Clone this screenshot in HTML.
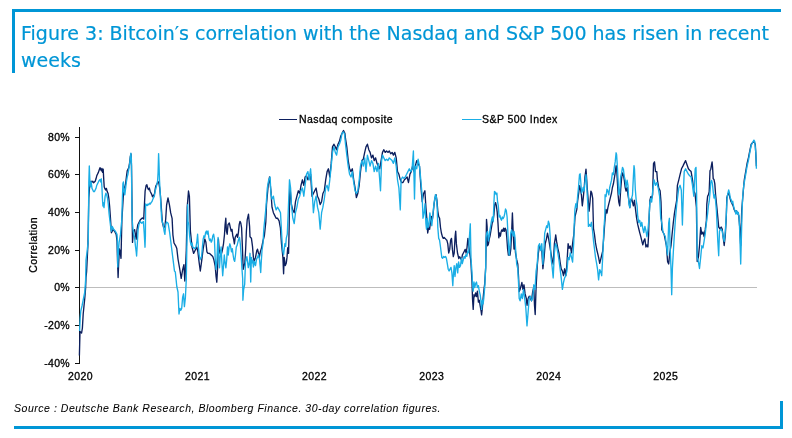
<!DOCTYPE html>
<html><head><meta charset="utf-8">
<style>
html,body{margin:0;padding:0;background:#fff;}
body{width:792px;height:438px;position:relative;overflow:hidden;font-family:"Liberation Sans",Arial,sans-serif;}
.bt{position:absolute;left:12px;top:9px;width:769px;height:3px;background:#0096d6;}
.bl{position:absolute;left:12px;top:9px;width:3px;height:64px;background:#0096d6;}
.bb{position:absolute;left:14px;top:426px;width:769px;height:3px;background:#0096d6;}
.br{position:absolute;left:780px;top:401px;width:3px;height:28px;background:#0096d6;}
.title{position:absolute;left:21px;top:20px;width:770px;font-family:"DejaVu Sans","Liberation Sans",sans-serif;font-size:19px;line-height:27px;color:#0096d6;white-space:nowrap;-webkit-text-stroke:0.2px #0096d6;}
.src{position:absolute;left:14px;top:402px;font-size:10.5px;font-style:italic;color:#000;white-space:nowrap;letter-spacing:0.53px;-webkit-text-stroke:0.05px #000;}
svg{position:absolute;left:0;top:0;}
</style></head><body>
<div class="bt"></div><div class="bl"></div><div class="bb"></div><div class="br"></div>
<div class="title">Figure 3: Bitcoin&#8242;s correlation with the Nasdaq and S&amp;P 500 has risen in recent<br>weeks</div>
<svg width="792" height="438" viewBox="0 0 792 438">
<g font-family="Liberation Sans, Arial, sans-serif" font-size="10.5" fill="#000" stroke="#000" stroke-width="0.3">
<line x1="279" y1="119.5" x2="297" y2="119.5" stroke="#0c1f5e" stroke-width="1"/>
<text x="299" y="122.5" letter-spacing="0.45">Nasdaq composite</text>
<line x1="462" y1="119.5" x2="481.5" y2="119.5" stroke="#1aaee6" stroke-width="1"/>
<text x="482" y="122.5" letter-spacing="0.45">S&amp;P 500 Index</text>
<g text-anchor="end" letter-spacing="0.3">
<text x="70" y="141.1">80%</text>
<text x="70" y="178.1">60%</text>
<text x="70" y="216.1">40%</text>
<text x="70" y="254.1">20%</text>
<text x="70" y="291.1">0%</text>
<text x="70" y="329.1">-20%</text>
<text x="70" y="367.1">-40%</text>
</g>
<g text-anchor="middle" letter-spacing="0.4">
<text x="80.5" y="379.6">2020</text>
<text x="197.5" y="379.6">2021</text>
<text x="314.5" y="379.6">2022</text>
<text x="431.7" y="379.6">2023</text>
<text x="548.8" y="379.6">2024</text>
<text x="665.7" y="379.6">2025</text>
</g>
<text transform="translate(36.6,244.8) rotate(-90)" text-anchor="middle" letter-spacing="0.4">Correlation</text>
</g>
<line x1="79" y1="287.5" x2="757" y2="287.5" stroke="#bdbdbd" stroke-width="1"/>
<g stroke="#111" stroke-width="1" fill="none">
<line x1="79.5" y1="127" x2="79.5" y2="364"/>
<path d="M75 137.5H79.5M75 174.5H79.5M75 212.5H79.5M75 250.5H79.5M75 287.5H79.5M75 325.5H79.5M75 363.5H80"/>
</g>
<polyline fill="none" stroke="#0c1f5e" stroke-width="1.35" stroke-linejoin="round" points="79.4,355.5 80.0,331.5 81.6,333.0 82.4,328.0 83.2,314.0 84.8,298.0 85.6,288.0 86.0,277.3 86.6,271.6 88.0,243.0 88.8,198.0 89.6,186.8 90.4,182.0 91.2,181.2 92.0,182.0 92.8,181.2 93.6,182.8 94.4,182.0 95.2,181.2 96.0,178.8 96.8,175.6 97.6,174.0 98.4,172.4 99.2,170.0 100.0,167.6 100.6,169.2 101.3,170.8 101.9,168.4 102.6,172.4 103.2,169.2 103.7,178.8 104.2,186.8 104.8,188.4 105.6,190.0 106.4,188.4 107.2,191.6 108.0,193.2 108.8,198.0 109.6,206.0 110.4,217.2 111.4,232.8 113.0,229.6 114.6,231.2 116.2,234.4 117.0,240.8 117.5,260.0 118.1,277.5 118.6,264.7 119.4,248.8 120.2,252.0 121.0,258.4 121.5,236.0 121.9,220.0 123.2,198.0 124.0,188.4 124.8,186.8 125.6,183.6 126.4,177.2 127.2,170.8 128.0,169.2 128.8,167.6 129.6,162.8 130.4,156.4 131.0,154.0 131.5,166.0 132.5,242.4 133.4,231.2 134.6,229.6 135.4,234.4 136.2,239.2 137.0,229.6 137.8,224.8 138.6,223.2 140.2,220.0 140.9,219.3 142.3,217.9 143.7,219.0 145.1,191.2 146.1,185.6 146.9,184.8 147.7,188.0 148.5,189.6 149.3,188.0 150.1,191.2 150.9,192.8 151.7,194.4 152.5,196.8 153.3,195.2 154.1,196.0 154.9,191.2 155.7,186.4 156.5,184.8 157.3,183.2 158.1,181.6 158.9,183.2 159.7,188.0 160.5,196.0 161.3,207.2 162.3,222.0 163.7,227.9 164.9,226.4 165.7,219.0 166.6,205.0 168.0,197.9 169.4,204.7 170.7,212.9 172.1,218.4 172.9,234.8 174.0,243.0 175.7,245.8 176.8,248.5 178.0,259.0 179.9,270.0 181.2,278.3 182.6,270.0 183.9,264.6 184.8,281.0 185.5,268.3 186.3,250.0 187.2,207.4 188.5,191.0 189.4,196.4 190.4,231.0 192.0,247.0 193.6,253.4 195.2,250.2 196.8,247.0 197.9,251.8 199.2,263.0 200.3,271.0 201.6,261.4 203.2,248.6 204.0,243.8 204.8,239.0 205.9,242.2 206.9,251.8 208.0,253.4 209.6,253.4 211.2,255.0 212.8,256.6 213.9,259.8 215.2,266.2 216.0,275.8 216.8,282.2 217.6,267.8 218.4,239.0 219.2,250.2 220.0,253.4 220.8,250.2 221.6,253.4 222.4,250.2 223.5,243.8 224.5,234.2 225.1,224.6 225.8,218.2 226.4,231.0 227.2,234.2 228.0,224.6 229.3,223.0 230.4,227.8 231.2,231.0 232.0,229.4 232.8,235.8 233.6,239.0 234.4,243.8 235.2,237.4 236.0,235.8 236.8,234.2 237.6,237.4 238.4,232.6 239.2,224.6 240.0,221.4 240.8,223.0 241.6,227.8 242.4,247.0 243.2,269.4 244.0,266.2 244.8,263.0 245.6,250.2 246.4,231.0 247.2,219.8 248.5,214.2 249.6,226.6 250.0,236.8 251.4,238.2 252.5,246.4 253.4,257.4 254.1,261.5 255.5,257.4 256.8,250.5 257.5,249.2 258.5,253.3 259.3,257.4 260.3,251.9 261.6,247.8 263.0,241.0 264.4,235.5 265.8,222.0 266.5,204.5 268.2,185.3 269.5,177.0 270.9,190.8 272.0,207.2 273.4,212.7 274.7,215.4 276.1,218.2 277.5,218.2 279.1,220.9 280.4,228.0 281.5,243.7 282.9,257.4 283.6,273.8 284.2,257.4 285.3,265.6 286.3,262.9 287.0,257.4 287.7,247.8 288.6,253.3 289.2,225.0 289.6,196.2 290.1,188.0 291.4,204.5 292.8,210.0 294.2,212.7 295.5,201.7 296.9,196.2 298.3,190.8 299.7,193.5 301.0,185.3 302.4,179.8 303.8,185.3 305.1,177.0 306.5,175.7 307.9,179.8 309.2,177.0 310.6,174.3 312.0,196.2 313.4,193.5 314.7,190.8 316.1,188.0 317.5,196.2 318.8,199.0 320.2,204.5 321.6,201.7 322.9,193.5 324.3,190.8 325.7,179.8 327.1,171.6 328.4,168.8 329.8,177.0 331.2,163.4 332.5,146.9 333.9,144.2 335.3,146.9 336.6,149.7 338.0,144.2 339.4,141.4 340.8,136.0 342.1,133.2 343.5,130.5 344.9,133.2 345.5,138.7 346.8,146.9 348.2,160.6 349.6,168.8 351.0,171.6 352.3,168.8 353.7,179.8 355.1,188.0 356.4,197.6 357.8,193.5 359.2,185.3 360.5,171.6 361.9,160.6 363.3,159.2 364.7,152.4 366.0,146.9 367.4,144.2 368.8,149.7 370.1,152.4 371.5,157.9 372.9,155.1 374.2,160.6 375.6,157.9 377.0,163.4 378.4,166.1 379.7,168.8 381.1,160.6 382.5,152.4 383.8,149.7 385.2,152.4 386.6,151.0 387.9,152.4 389.3,151.0 390.7,153.8 392.1,152.4 393.4,155.1 394.8,152.4 396.2,157.9 397.5,171.6 398.9,174.3 400.3,179.8 401.6,182.5 403.0,182.5 404.4,179.8 405.8,178.4 407.1,177.0 408.5,182.5 409.9,174.3 411.2,171.6 412.6,166.1 414.0,171.6 415.3,166.1 416.7,160.6 418.1,163.4 419.5,166.1 420.8,185.3 422.2,201.7 423.6,193.5 424.9,190.8 425.9,207.4 426.8,218.4 427.7,233.0 428.7,227.5 429.6,229.3 430.5,222.0 431.4,216.5 432.3,220.2 433.2,212.9 434.1,203.7 435.0,198.3 436.0,194.6 436.9,200.1 437.8,211.0 438.7,216.5 439.6,218.4 440.5,227.5 441.4,233.0 442.4,236.6 443.3,238.4 444.2,237.5 445.1,238.4 446.0,239.4 446.9,240.3 447.8,243.9 448.7,253.0 449.7,249.4 450.6,240.3 451.5,238.4 452.4,249.4 453.3,256.7 454.2,253.0 455.1,236.6 455.7,231.1 456.4,243.9 457.5,253.0 458.8,258.5 459.7,256.7 461.5,260.0 462.4,254.9 463.4,253.0 464.3,251.2 465.2,249.4 466.1,253.0 467.0,247.6 467.9,238.4 468.8,245.8 469.7,253.0 470.7,260.0 471.0,263.7 472.0,282.0 472.5,298.4 473.2,309.4 474.0,294.8 474.7,296.6 475.6,293.0 476.5,296.6 477.4,291.1 478.4,302.1 479.3,300.3 480.2,305.8 481.1,311.2 481.6,314.9 482.4,307.6 483.1,298.4 483.8,291.1 484.7,283.8 485.7,267.4 486.5,219.4 487.1,226.6 487.6,245.8 488.4,244.2 489.2,239.4 490.0,236.2 490.8,231.4 491.6,226.6 492.4,221.8 493.2,220.2 494.0,213.8 494.8,204.2 495.6,202.6 496.4,205.8 497.2,212.2 498.0,223.4 498.8,237.8 499.6,233.0 500.4,236.2 501.2,231.4 502.0,229.8 502.8,231.4 503.6,228.2 504.4,231.4 505.2,228.2 506.0,229.8 506.8,237.8 507.6,249.0 508.4,255.1 510.0,255.1 510.8,249.0 511.6,233.0 512.4,213.0 513.2,233.0 514.0,249.0 514.4,236.8 515.5,252.8 516.7,259.7 517.8,264.2 518.5,275.7 519.2,291.6 520.1,289.4 521.3,284.8 521.9,282.5 522.9,289.4 524.0,284.8 525.1,293.9 526.3,298.5 527.0,305.3 528.1,298.5 529.2,296.2 530.4,298.5 531.5,300.8 532.7,291.6 533.8,287.1 534.5,305.3 535.2,314.5 536.1,287.1 537.2,266.5 538.4,252.8 539.5,246.0 540.7,248.3 541.8,250.5 542.9,268.8 544.1,257.4 545.2,243.7 546.4,239.1 547.5,233.1 548.7,239.1 549.8,246.0 550.9,252.8 552.1,259.7 553.2,264.2 554.4,243.7 555.5,236.8 555.7,234.9 556.6,241.4 557.8,248.3 558.9,252.8 560.1,262.0 561.2,268.8 562.4,271.1 563.5,275.7 564.6,268.8 565.8,275.7 566.9,264.2 568.1,243.7 569.2,248.3 570.3,246.0 571.5,252.8 572.6,243.7 573.8,234.6 574.5,225.0 575.0,216.7 576.8,209.4 577.7,200.3 578.7,193.0 579.6,185.7 580.5,189.3 581.4,194.8 582.3,205.8 583.2,198.4 584.1,189.3 585.0,176.5 586.0,169.2 586.5,176.5 587.2,187.5 588.2,200.3 589.1,211.2 590.0,202.1 590.9,191.1 591.8,193.0 592.7,198.4 593.5,228.5 594.5,234.7 595.5,242.9 596.6,249.0 597.6,253.1 598.6,257.3 599.7,263.4 600.7,259.3 601.7,255.2 602.7,251.1 603.8,236.7 604.8,222.3 605.8,212.0 606.0,209.4 607.0,213.1 607.9,207.6 608.8,203.9 609.7,200.3 610.6,196.6 611.5,193.0 612.4,187.5 613.4,183.8 614.3,178.4 615.2,172.9 616.1,165.6 616.6,167.4 617.4,182.0 618.1,194.8 618.8,202.1 619.7,205.8 620.7,189.3 621.6,178.4 622.5,172.9 623.4,174.7 624.3,180.2 625.2,187.5 626.1,191.1 627.1,187.5 628.0,194.8 628.9,200.3 629.8,207.6 630.7,200.3 631.6,198.4 632.5,202.1 633.4,205.8 634.4,200.3 635.3,207.6 636.6,218.2 637.7,224.4 638.7,228.5 639.7,232.6 640.8,236.7 641.8,240.8 642.8,244.9 643.8,240.8 644.9,238.8 645.9,247.0 646.9,244.9 647.9,247.0 648.6,234.7 649.0,220.3 649.9,200.3 650.8,196.6 651.7,198.4 652.6,194.8 653.5,163.7 654.5,161.9 655.5,171.6 656.8,171.6 657.4,179.8 658.8,188.0 660.1,190.8 661.0,201.7 661.8,229.7 664.1,234.2 666.4,245.7 667.6,261.6 668.7,264.0 669.8,252.5 671.0,245.7 672.1,234.2 673.3,222.8 674.4,213.7 675.5,206.8 676.7,200.0 677.4,185.3 678.8,179.8 680.1,174.3 681.5,168.8 682.9,166.1 684.2,163.4 685.6,160.6 687.0,164.7 688.4,168.8 689.7,170.2 691.1,171.6 692.5,179.8 693.8,190.8 695.0,193.5 696.4,207.2 697.2,261.6 698.4,257.1 699.5,245.7 700.7,227.4 701.8,234.2 703.0,232.0 704.1,236.5 705.2,229.7 706.4,220.5 706.8,204.4 707.6,196.4 708.4,194.8 709.2,191.6 710.0,170.8 710.8,169.2 711.6,164.4 712.1,162.0 712.6,167.6 713.2,178.8 714.0,179.6 714.8,183.6 715.6,194.8 716.4,202.8 717.2,210.8 718.7,227.0 720.1,229.0 721.2,227.0 722.2,229.0 723.2,237.3 724.2,245.5 725.3,235.2 726.3,216.7 726.8,198.0 727.6,194.8 728.4,193.2 729.2,194.8 730.0,198.0 730.8,201.2 731.6,202.8 732.4,204.4 733.2,206.0 734.0,209.2 734.8,210.8 735.6,212.4 736.4,210.8 737.2,212.4 738.0,214.0 738.8,215.6 739.7,227.0 740.7,245.5 741.7,210.5 742.7,198.2 743.8,185.0 744.3,179.8 745.7,171.6 747.1,163.4 748.4,157.9 749.8,151.0 751.2,144.2 752.5,142.8 753.9,141.4 755.3,144.2 756.4,166.1"/>
<polyline fill="none" stroke="#1aaee6" stroke-width="1.35" stroke-linejoin="round" points="79.6,331.0 80.2,318.0 80.8,311.0 82.0,306.0 83.2,300.0 84.8,292.0 85.6,280.0 86.0,260.0 87.1,251.6 88.3,240.0 88.8,182.0 89.3,166.0 89.8,178.8 90.4,186.8 91.2,182.0 92.0,188.4 92.8,190.0 93.6,191.6 94.4,191.6 95.2,190.0 96.0,188.4 96.8,185.2 97.6,183.6 98.4,182.0 99.2,180.4 100.0,179.6 100.8,182.0 101.3,178.8 101.9,186.8 102.4,198.0 102.9,206.0 103.5,202.8 104.0,207.6 104.5,202.8 105.1,196.4 105.9,193.2 106.7,194.8 107.5,198.0 108.3,204.4 109.1,214.0 110.6,226.4 111.4,231.2 112.2,226.4 113.8,229.6 115.4,231.2 117.0,234.4 117.4,240.8 117.8,267.0 118.4,252.0 119.1,242.4 119.7,239.2 120.5,234.4 121.0,228.0 121.8,220.0 122.4,198.0 122.9,183.6 123.4,182.0 124.0,191.6 124.8,194.8 125.6,188.4 126.4,182.0 127.2,177.2 128.0,174.0 128.8,169.2 129.6,164.4 130.4,156.4 130.9,153.2 131.4,159.6 131.8,198.0 132.2,220.0 133.0,229.6 133.8,234.4 134.6,237.6 135.4,245.6 136.2,252.0 136.6,256.0 137.3,244.0 138.1,229.6 138.9,224.8 140.2,221.6 141.8,223.2 143.4,221.6 144.2,232.8 145.0,247.2 145.4,236.0 145.6,204.0 146.4,204.8 147.2,205.6 148.0,204.0 148.8,204.8 149.6,203.2 150.4,204.0 151.2,202.4 152.0,201.6 152.8,199.2 153.6,197.6 154.4,196.0 155.2,191.2 156.0,188.0 156.8,184.8 157.6,180.8 158.1,172.0 158.6,153.6 159.0,164.0 159.5,180.0 160.2,192.8 160.8,204.0 161.7,220.0 163.3,224.8 164.1,231.2 164.9,234.4 165.7,224.8 166.6,222.0 168.1,223.2 169.7,232.8 171.3,245.6 172.9,258.4 174.5,271.1 175.3,271.9 176.8,286.5 178.0,292.0 179.0,314.0 179.9,308.4 180.8,310.3 181.7,308.4 182.6,297.5 183.5,293.8 184.4,306.6 185.4,297.5 186.3,279.2 186.8,250.0 187.7,204.7 188.0,221.4 188.8,224.6 189.6,235.8 190.4,242.2 191.2,245.4 192.0,243.0 192.8,247.0 194.4,248.6 196.0,247.0 196.8,242.2 197.6,234.2 198.4,247.0 199.2,255.0 200.0,259.8 200.8,258.2 201.6,256.6 202.4,247.0 203.2,239.0 204.0,235.8 204.8,237.4 205.6,232.6 206.4,231.0 207.2,234.2 208.0,231.0 208.8,237.4 209.6,240.6 210.4,239.0 211.2,242.2 212.0,240.6 212.8,235.8 213.6,234.2 214.4,239.0 215.2,258.2 216.0,269.4 216.8,263.0 217.6,243.8 218.1,237.4 218.7,255.0 219.5,267.8 220.3,255.0 221.1,247.0 221.9,263.0 222.7,275.8 223.5,266.2 224.3,255.0 225.1,263.0 225.9,267.8 226.7,259.8 227.5,247.0 228.3,255.0 229.1,247.0 229.9,243.8 230.7,247.0 231.5,251.8 232.3,248.6 233.1,255.0 233.9,259.8 234.7,261.4 235.5,255.0 236.3,247.0 237.1,245.4 237.9,242.2 238.7,239.0 239.5,237.4 240.3,243.8 241.1,255.0 241.9,267.8 242.7,279.0 242.9,300.2 243.6,290.0 244.7,284.1 245.5,262.2 246.9,256.7 248.3,267.7 249.4,262.2 250.0,253.3 250.7,282.1 251.4,257.4 252.1,262.9 252.7,260.1 253.4,267.0 254.4,261.5 255.5,265.6 256.6,258.8 257.5,257.4 258.5,254.7 259.6,260.1 260.7,272.5 261.2,262.9 262.0,250.5 263.0,243.7 263.8,229.1 266.0,207.2 267.3,188.0 268.7,179.8 270.1,177.0 270.9,193.5 272.0,199.0 273.4,196.2 274.7,204.5 276.1,209.9 277.5,207.2 279.1,209.9 280.5,212.7 281.8,236.8 282.6,250.5 283.6,254.7 284.2,249.2 284.9,243.7 285.6,246.4 286.3,238.2 287.3,234.1 288.4,207.2 289.5,179.8 290.6,188.0 291.4,204.5 292.8,218.2 294.2,223.6 295.5,212.7 296.9,207.2 298.3,199.0 299.7,196.2 301.0,190.8 302.4,188.0 303.8,196.2 305.1,185.3 306.5,174.3 307.9,171.6 309.2,179.8 310.6,168.8 312.0,188.0 313.4,212.7 314.7,201.7 316.1,196.2 317.5,207.2 318.8,212.7 320.2,229.1 321.6,212.7 322.9,207.2 324.3,199.0 325.7,188.0 327.1,185.3 328.4,190.8 329.8,179.8 331.2,166.1 332.5,152.4 333.9,146.9 335.3,152.4 336.6,155.1 338.0,146.9 339.4,144.2 340.8,140.0 342.1,133.0 343.5,132.0 344.5,134.0 345.5,144.2 346.8,155.1 348.2,166.1 349.6,174.3 351.0,177.0 352.3,171.6 353.7,182.5 355.1,190.8 356.4,193.5 357.8,190.8 359.2,179.8 360.5,166.1 361.9,160.6 363.3,166.1 364.7,157.9 366.0,171.6 367.4,155.1 368.8,160.6 370.1,166.1 371.5,160.6 372.9,163.4 374.2,171.6 375.6,166.1 377.0,171.6 378.4,163.4 379.7,179.8 380.5,190.8 381.6,160.6 382.5,155.1 383.8,157.9 385.2,160.6 386.6,159.2 387.9,160.6 389.3,157.9 390.7,159.2 392.1,160.6 393.4,163.4 394.8,157.9 396.2,166.1 397.5,179.8 398.9,188.0 400.3,209.9 401.1,179.8 402.5,177.0 403.8,178.4 405.2,177.0 406.6,174.3 407.9,171.6 409.3,168.8 410.7,171.6 412.1,168.8 413.4,151.0 414.5,199.0 415.3,166.1 416.7,168.8 418.1,159.2 419.5,166.1 420.8,179.8 422.2,196.2 423.0,218.2 424.1,212.7 425.0,203.7 425.9,223.8 426.5,229.3 427.2,218.4 428.1,227.5 429.0,223.8 429.9,212.9 430.8,220.2 431.8,225.7 432.7,216.5 433.6,207.4 434.5,200.1 435.4,194.6 436.3,196.4 437.2,207.4 437.8,227.5 438.7,238.4 439.6,240.3 440.5,247.0 441.8,257.4 442.7,258.3 443.7,256.4 444.6,257.4 445.5,256.4 446.4,258.3 447.3,263.7 448.2,269.2 449.1,271.0 450.0,269.2 451.0,267.4 451.9,272.9 452.8,285.7 453.3,276.5 454.2,265.6 455.0,276.5 455.9,267.4 456.8,263.7 457.7,272.9 458.6,261.9 459.5,267.4 460.5,265.6 461.4,258.3 462.3,263.7 463.2,260.1 464.1,256.4 465.0,258.3 465.9,254.6 466.8,256.4 467.8,251.0 468.7,252.8 469.2,240.0 470.3,223.8 471.0,258.3 472.0,272.9 472.5,283.8 473.2,291.1 474.0,282.0 474.7,287.5 475.6,283.8 476.5,282.0 477.4,287.5 478.4,285.7 479.3,291.1 480.2,294.8 481.1,302.1 481.6,309.4 482.4,300.3 483.1,303.9 483.8,298.4 484.7,287.5 485.7,267.4 486.0,237.8 486.8,233.0 487.6,231.4 488.4,241.0 489.2,236.2 490.0,229.8 490.8,225.0 491.6,220.2 492.4,217.0 493.2,221.8 494.0,201.0 494.5,191.4 495.3,192.2 496.1,194.6 496.9,193.0 497.5,201.0 498.3,205.8 499.1,217.0 499.9,215.4 500.7,218.6 501.5,220.2 502.3,217.0 503.1,218.6 503.9,217.0 504.7,213.8 505.5,209.0 506.3,210.6 507.1,217.0 507.9,233.0 508.7,249.0 509.2,255.1 510.0,245.8 510.8,233.0 511.6,229.8 512.4,233.0 513.2,236.2 514.0,231.4 514.8,236.2 515.6,249.0 516.7,264.2 517.8,268.8 518.5,282.5 519.2,298.5 520.1,300.8 521.3,293.9 522.4,298.5 523.5,289.4 524.7,298.5 525.8,307.6 527.0,325.9 528.1,312.2 529.2,298.5 530.4,296.2 531.5,300.8 532.7,298.5 533.8,284.8 535.0,289.4 536.1,271.1 537.2,264.2 538.4,246.0 539.5,243.7 540.7,250.5 541.8,243.7 542.9,264.2 544.1,246.0 544.7,233.1 545.7,229.4 546.6,225.8 547.5,227.6 548.4,221.2 549.3,223.9 550.2,236.7 550.9,257.4 552.1,266.5 553.2,277.9 554.4,252.8 555.5,243.7 556.6,246.0 557.8,252.8 558.9,259.7 560.1,268.8 561.2,277.9 562.4,289.4 563.5,282.5 564.6,277.9 565.8,275.7 566.9,271.1 568.1,257.4 569.2,259.7 570.3,252.8 571.5,257.4 572.6,262.0 573.8,241.4 574.2,225.0 574.9,209.3 575.8,203.8 576.7,207.5 577.6,196.5 578.5,187.4 579.5,174.6 580.1,173.8 580.8,182.0 581.6,193.0 582.3,191.1 583.2,187.5 584.1,191.1 585.0,182.0 586.0,174.7 586.5,180.2 587.2,194.8 587.8,203.9 588.4,226.4 589.4,224.4 590.4,226.4 591.4,222.3 592.5,230.5 593.5,240.8 594.5,249.0 595.5,257.3 596.6,263.4 597.6,269.6 598.6,279.9 599.7,269.6 600.7,271.6 601.7,275.7 602.7,257.3 603.8,230.5 604.8,216.2 605.1,194.8 606.0,196.6 607.0,189.3 607.9,191.1 608.8,194.8 609.7,187.5 610.6,183.8 611.5,180.2 612.4,172.9 613.4,174.7 614.3,167.4 615.2,161.9 616.1,152.8 616.6,154.6 617.4,167.4 618.1,180.2 618.8,194.8 619.7,193.0 620.7,176.5 621.6,172.9 622.5,167.4 623.4,169.2 624.3,176.5 625.2,180.2 626.1,187.5 627.1,180.2 628.0,185.7 628.9,203.9 629.8,207.6 630.7,200.3 631.6,198.4 632.5,194.8 633.4,176.5 634.0,165.6 634.5,169.2 635.3,189.3 636.2,200.3 637.1,205.8 637.7,216.2 638.7,222.3 639.7,220.3 640.8,226.4 641.8,222.3 642.8,228.5 643.8,232.6 644.9,226.4 645.9,230.5 646.9,236.7 647.9,230.5 649.0,218.2 649.9,202.1 650.8,198.4 651.7,202.0 652.7,190.8 654.1,179.8 655.5,185.3 656.8,182.5 658.2,188.0 659.6,196.2 660.7,218.3 661.8,222.8 663.0,232.0 664.1,234.2 665.3,236.5 666.4,245.7 667.6,254.8 668.7,222.8 669.4,218.3 670.1,245.7 671.0,268.5 671.7,294.7 672.4,268.5 673.3,252.5 674.4,234.2 675.5,218.3 676.7,204.6 677.4,199.0 678.8,188.0 680.1,185.3 681.3,190.0 682.4,225.1 683.5,190.0 684.2,171.6 685.6,168.8 687.0,171.6 688.4,174.3 689.7,175.7 691.1,177.0 692.5,185.3 693.8,196.2 695.2,168.8 696.0,167.4 696.6,193.5 697.2,257.1 698.4,261.6 699.5,268.5 700.7,257.1 701.8,245.7 703.0,248.0 704.1,241.1 705.2,234.2 706.4,222.8 707.6,214.0 708.4,206.0 709.2,201.2 710.0,193.2 710.8,182.0 711.6,180.4 712.4,183.6 713.2,191.6 714.0,198.0 714.8,194.8 715.6,201.2 716.4,210.8 717.8,241.1 718.7,255.7 719.5,231.1 720.8,229.0 722.2,231.1 723.2,237.3 724.2,241.4 725.3,231.1 726.3,214.7 727.1,198.0 727.9,193.2 728.7,190.0 729.5,193.2 730.3,198.0 731.1,199.6 731.9,202.8 732.7,201.2 733.5,206.0 734.3,209.2 735.1,210.8 735.9,214.0 736.7,210.8 737.5,214.0 738.3,212.4 739.1,217.2 739.7,231.1 740.7,264.0 741.3,241.4 742.1,210.5 742.7,196.2 743.8,185.0 744.3,182.5 745.7,174.3 747.1,166.1 748.4,160.6 749.8,152.4 751.2,145.5 752.5,142.8 753.9,140.1 754.7,141.4 755.8,152.4 756.4,168.8"/>
</svg>
<div class="src">Source : Deutsche Bank Research, Bloomberg Finance. 30-day correlation figures.</div>
</body></html>
